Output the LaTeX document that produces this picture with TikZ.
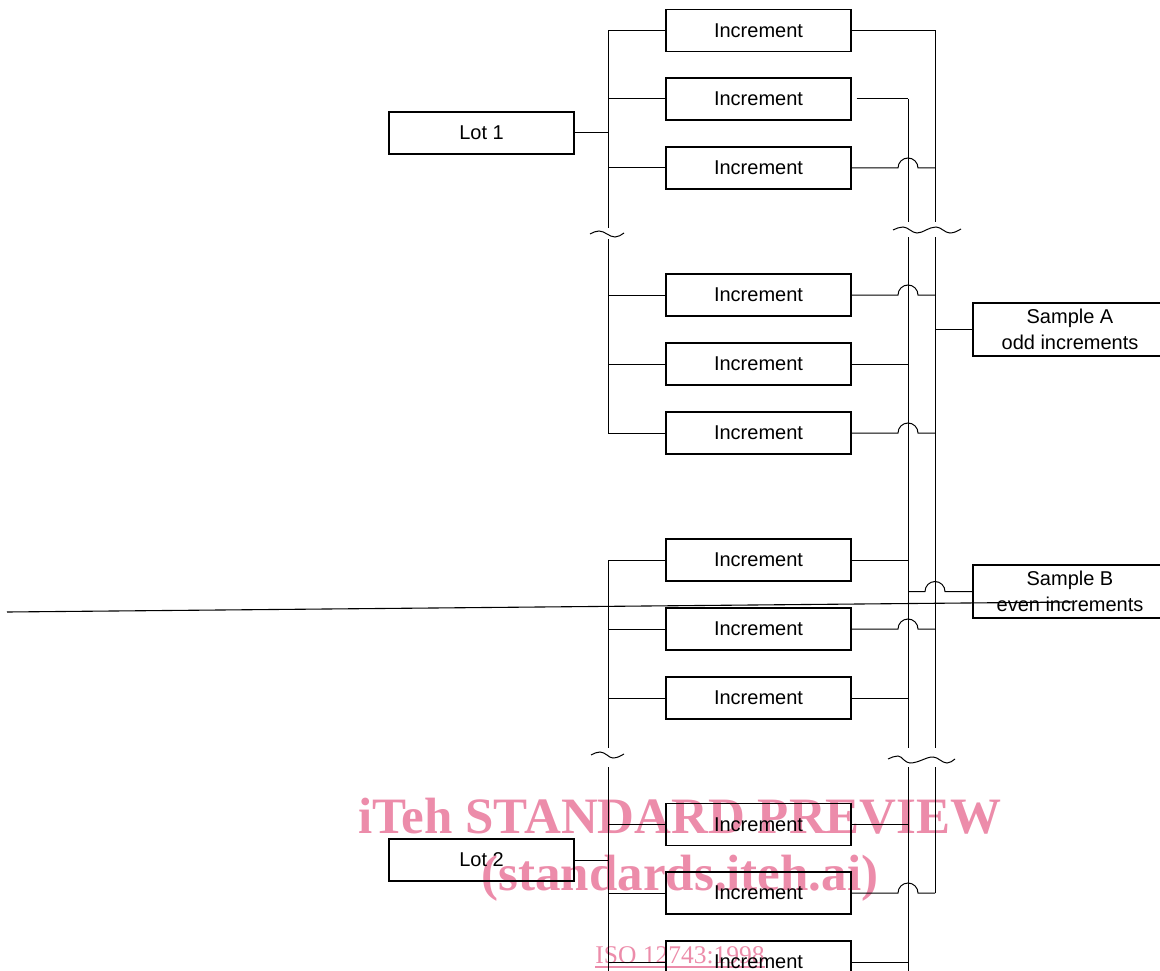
\documentclass[tikz,border=0pt]{standalone}
\usepackage{fontspec}
\setmainfont{Liberation Sans}
\newfontfamily\wmfont{Liberation Serif}
\usetikzlibrary{calc}
\definecolor{wmpink}{RGB}{236,140,170}
\begin{document}
\begin{tikzpicture}[x=1pt,y=-1pt,
  box/.style={draw,line width=1.4pt,minimum width=185pt,minimum height=42pt,inner sep=0pt,font=\fontsize{20}{22}\selectfont},
  sbox/.style={draw,line width=1.4pt,minimum width=194pt,minimum height=53pt,inner sep=0pt,align=center,font=\fontsize{20}{26}\selectfont},
  wire/.style={line width=1pt},
  wm/.style={text=wmpink,inner sep=0pt,anchor=base}]
\useasboundingbox (0,0) rectangle (1160,971);
% watermark
\node[wm,font=\wmfont\bfseries\fontsize{51}{51}\selectfont] (wm1) at (680,833) {iTeh STANDARD PREVIEW};
\node[wm,font=\wmfont\bfseries\fontsize{51}{51}\selectfont] (wm2) at (680,890) {(standards.iteh.ai)};
\node[wm,font=\wmfont\fontsize{25.5}{26}\selectfont] (wm3) at (680,963) {ISO 12743:1998};
\draw[wmpink,line width=1.2pt] ($(wm3.base west)+(0,4)$) -- ($(wm3.base east)+(0,4)$);
% boxes
\foreach \n/\y in {1/30.5,2/99,3/168,4/295,5/364,6/433,7/560,8/629,9/698,10/824.5,11/893,12/962}
  \node[box] (r\n) at (758.5,\y) {Increment};
\node[box] (lot1) at (481.5,133) {Lot 1};
\node[box] (lot2) at (481.5,860) {Lot 2};
\node[sbox] (sA) at (1070,329.5) {Sample A\\odd increments};
\node[sbox] (sB) at (1070,591.5) {Sample B\\even increments};
% bus x positions
\coordinate (lb) at (608,0);
\coordinate (eb) at (908,0);
\coordinate (ob) at (935,0);
% left buses
\draw[wire] (r1.west -| lb) -- (608,228);
\draw[wire] (608,239) -- (r6.west -| lb);
\draw[wire] (r7.west -| lb) -- (608,748);
\draw[wire] (608,767) -- (608,975);
\foreach \n in {1,...,12} \draw[wire] (r\n.west -| lb) -- (r\n.west);
\draw[wire] (lot1.east) -- (lot1.east -| lb);
\draw[wire] (lot2.east) -- (lot2.east -| lb);
% right buses
\draw[wire] (r1.east -| ob) -- (935,222);
\draw[wire] (935,237) -- (935,748);
\draw[wire] (935,767) -- (r11.east -| ob);
\draw[wire] ($(r2.east -| eb)$) -- (908,222);
\draw[wire] (908,237) -- (908,748);
\draw[wire] (908,767) -- (908,975);
% connections
\draw[wire] (r1.east) -- (r1.east -| ob);
\draw[wire] ($(r2.east)+(5,0)$) -- (r2.east -| eb);
\foreach \n in {5,7,9,10,12} \draw[wire] (r\n.east) -- (r\n.east -| eb);
\foreach \n in {3,4,6,8,11}
  \draw[wire] (r\n.east) -- ($(r\n.east -| eb)+(-10,0)$) arc[start angle=180,end angle=0,radius=10pt] -- (r\n.east -| ob);
\draw[wire] (sA.west -| ob) -- (sA.west);
\draw[wire] (sB.west -| eb) -- ($(sB.west -| ob)+(-10,0)$) arc[start angle=180,end angle=0,radius=10pt] -- (sB.west);
% break marks
\draw[wire] (590,234) sin (599,231) cos (607,234) sin (615,237) cos (624,233);
\draw[wire] (893,230) sin (903,227) cos (910,230) sin (917,233) cos (926,230) sin (936,227) cos (943,230) sin (950,233) cos (961,229);
\draw[wire] (591,755) sin (600,752) cos (607,755) sin (613,758) cos (624,754);
\draw[wire] (888,759) sin (898,756) cos (904,760) sin (910,763) cos (922,760) sin (933,757) cos (940,760) sin (947,763) cos (955,759);
% stray line
\coordinate (s1) at (7,612);
\coordinate (s2) at (1072,602);
\draw[line width=1.1pt] (s1) -- (s2);
\end{tikzpicture}
\end{document}
